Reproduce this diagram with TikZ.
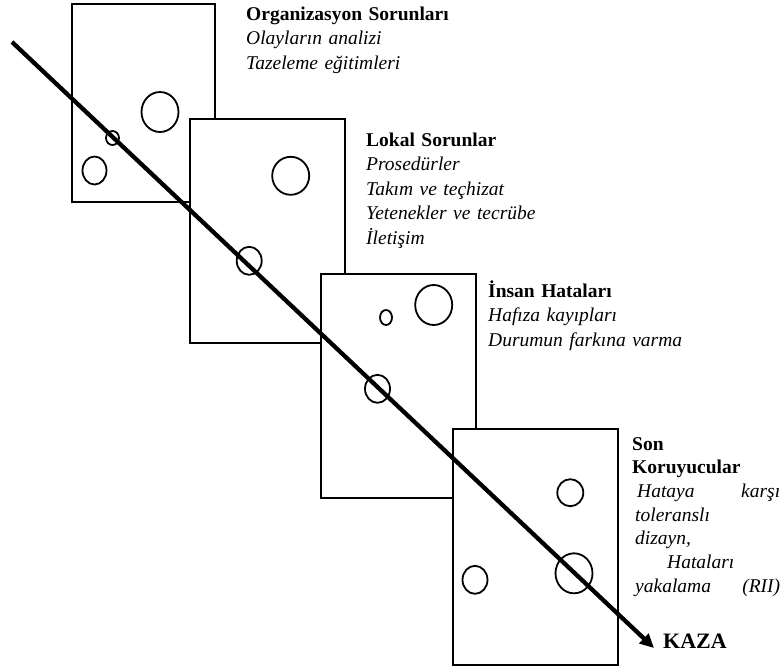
\documentclass[tikz,border=0pt]{standalone}
\usepackage{fontspec}
\setmainfont{Liberation Serif}
\usetikzlibrary{arrows.meta,shapes.geometric}
\newcommand{\layertitle}[1]{\textup{\textbf{#1}}}

\begin{document}
\begin{tikzpicture}[
  x=1pt, y=-1pt, black,
  plate/.style={draw=black, fill=white, line width=2pt, inner sep=0pt,
                anchor=north west},
  hole/.style={ellipse, draw=black, line width=1.8pt, inner sep=0pt},
  notes/.style={anchor=north west, inner sep=0pt, align=left, text width=#1,
                font=\fontsize{19.5}{24.5}\selectfont\itshape},
  hazard/.style={-{Triangle[length=14pt,width=13pt]}, draw=black, line width=4.3pt},
]
\useasboundingbox (0,0) rectangle (782,670);

% ---- the four layers --------------------------------------------------------
\node[plate, minimum width=143pt, minimum height=198pt] (org) at (71,3) {};
\node[hole, minimum width=37pt, minimum height=40pt] (org1) at (160,112) {};
\node[hole, minimum width=13pt, minimum height=14pt] (org2) at (112.5,138) {};
\node[hole, minimum width=24pt, minimum height=28pt] (org3) at (94.5,170.5) {};

\node[plate, minimum width=155pt, minimum height=224pt] (lokal) at (189,118) {};
\node[hole, minimum width=37pt, minimum height=38pt] (lokal1) at (290.7,175.8) {};
\node[hole, minimum width=25pt, minimum height=28pt] (lokal2) at (249.2,260.8) {};

\node[plate, minimum width=155pt, minimum height=224pt] (insan) at (320,273) {};
\node[hole, minimum width=12pt, minimum height=15pt] (insan1) at (386,317.5) {};
\node[hole, minimum width=37pt, minimum height=40pt] (insan2) at (433.7,305) {};
\node[hole, minimum width=25pt, minimum height=28pt] (insan3) at (377.5,388.8) {};

\node[plate, minimum width=165pt, minimum height=236pt] (son) at (452,428) {};
\node[hole, minimum width=26pt, minimum height=27pt] (son1) at (570.3,492.7) {};
\node[hole, minimum width=25pt, minimum height=28pt] (son2) at (475,579.8) {};
\node[hole, minimum width=37pt, minimum height=40pt] (son3) at (574,573.3) {};

% ---- what each layer stands for ---------------------------------------------
\node[notes=250pt] (orgtxt) at (246,2.85) {\strut\layertitle{Organizasyon Sorunları}\\
  Olayların analizi\\
  Tazeleme eğitimleri};
\node[notes=220pt] (lokaltxt) at (366,128.85) {\strut\layertitle{Lokal Sorunlar}\\
  Prosedürler\\
  Takım ve teçhizat\\
  Yetenekler ve tecrübe\\
  İletişim};
\node[notes=240pt] (insantxt) at (488,279.85) {\strut\layertitle{İnsan Hataları}\\
  Hafıza kayıpları\\
  Durumun farkına varma};
\node[notes=148pt, font=\fontsize{19.5}{23.7}\selectfont\itshape] (sontxt)
  at (632,433.4) {\strut\layertitle{Son}\\
  \layertitle{Koruyucular}\\
  \hspace*{5pt}Hataya\hfill karşı\\
  \hspace*{3pt}toleranslı\\
  \hspace*{3pt}dizayn,\\
  \hspace*{35pt}Hataları\\
  \hspace*{3pt}yakalama\hfill(RII)};

% ---- the accident trajectory ------------------------------------------------
\node[anchor=base west, inner sep=0pt, font=\fontsize{22}{26}\selectfont\bfseries]
  (kaza) at (663,648) {KAZA};
\coordinate (start) at (12,42);
\coordinate (hit) at (654,648);
\draw[hazard] (start) -- (hit);

\end{tikzpicture}
\end{document}
